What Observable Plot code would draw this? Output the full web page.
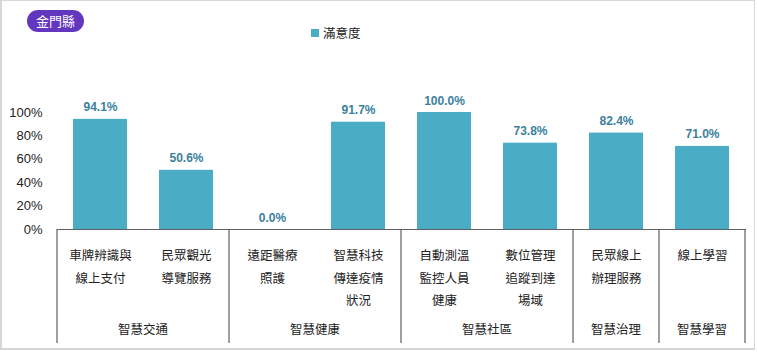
<!DOCTYPE html>
<html>
<head>
<meta charset="utf-8">
<script src="https://cdn.jsdelivr.net/npm/d3@7"></script>
<script src="https://cdn.jsdelivr.net/npm/@observablehq/plot@0.6"></script>
<style>
  html, body { margin: 0; padding: 0; background: #fff; }
  #wrap { position: relative; width: 757px; height: 352px; overflow: hidden;
          font-family: "Liberation Sans", "Noto Sans CJK TC", sans-serif; }
  #frame { position: absolute; left: 0; top: 0; width: 752px; height: 347px;
           border: 1px solid #d6d6d6; border-left-width: 2px; border-bottom-width: 2px; pointer-events: none; }
  #badge { position: absolute; left: 27px; top: 10px; width: 57px; height: 22px; border-radius: 11px;
           background: #6236bf; color: #fff; font-size: 13px; line-height: 22px; text-align: center;
           font-family: "Noto Sans CJK TC", sans-serif; }
  #legend { position: absolute; left: 311px; top: 23px; font-size: 12.5px; color: #222;
            font-family: "Noto Sans CJK TC", sans-serif; display: flex; align-items: center; }
  #legend span.sw { display: inline-block; width: 8px; height: 8px; background: #4bacc6; margin-right: 4px; }
  #chart { position: absolute; left: 0; top: 0; }
</style>
</head>
<body>
<div id="wrap">
  <div id="chart"></div>
  <div id="badge">金門縣</div>
  <div id="legend"><span class="sw"></span><span>滿意度</span></div>
  <div id="frame"></div>
</div>
<script>
const categories = [
  "車牌辨識與\n線上支付",
  "民眾觀光\n導覽服務",
  "遠距醫療\n照護",
  "智慧科技\n傳達疫情\n狀況",
  "自動測溫\n監控人員\n健康",
  "數位管理\n追蹤到達\n場域",
  "民眾線上\n辦理服務",
  "線上學習"
];
const groups = ["智慧交通", "智慧交通", "智慧健康", "智慧健康", "智慧社區", "智慧社區", "智慧治理", "智慧學習"];
const satisfaction = [94.1, 50.6, 0.0, 91.7, 100.0, 73.8, 82.4, 71.0];
const yTicks = [0, 20, 40, 60, 80, 100];

const data = categories.map((c, i) => ({cat: c, group: groups[i], value: satisfaction[i]}));

const chart = Plot.plot({
  width: 757,
  height: 352,
  marginLeft: 57,
  marginRight: 11,
  marginTop: 112,
  marginBottom: 123,
  style: {fontFamily: '"Liberation Sans", "Noto Sans CJK TC", sans-serif', color: "#222", background: "transparent"},
  x: {domain: categories, paddingInner: 0.37, paddingOuter: 0.185, axis: null},
  y: {domain: [0, 100], axis: null},
  marks: [
    Plot.barY(data, {x: "cat", y: "value", fill: "#4bacc6"}),
    Plot.ruleY([0], {stroke: "#5f5f5f", strokeWidth: 1.2}),
    Plot.axisY({ticks: yTicks, tickSize: 0, tickPadding: 15, tickFormat: d => d + "%", fontSize: 13, fill: "#222", label: null}),
    Plot.text(data, {x: "cat", y: "value", text: d => d.value.toFixed(1) + "%", dy: -8, lineAnchor: "bottom",
      fontWeight: "bold", fontSize: 12, fill: "#3a809e"}),
    Plot.text(data, {x: "cat", text: "cat", frameAnchor: "bottom", lineAnchor: "top", dy: 15,
      lineHeight: 1.8, fontSize: 12.5, fill: "#222", fontFamily: '"Noto Sans CJK TC", sans-serif'})
  ]
});
document.getElementById("chart").appendChild(chart);

// group separators and group labels positioned through the plot's x scale
const xs = chart.scale("x");
const bw = xs.bandwidth;
const step = xs.step;
const gap = (step - bw) / 2;
const yBase = 352 - 123;
const svg = d3.select(chart);
const uniq = [...new Set(groups)];
const boundaries = [];
uniq.forEach((g, gi) => {
  const members = categories.filter((c, i) => groups[i] === g);
  const left = xs.apply(members[0]) - gap;
  const right = xs.apply(members[members.length - 1]) + bw + gap;
  if (gi === 0) boundaries.push(left);
  boundaries.push(right);
  svg.append("text")
    .attr("x", (left + right) / 2)
    .attr("y", yBase + 101)
    .attr("dy", "0.35em")
    .attr("text-anchor", "middle")
    .attr("font-size", 12.5)
    .attr("fill", "#222")
    .attr("font-family", '"Noto Sans CJK TC", sans-serif')
    .text(g);
});
svg.append("g").selectAll("line").data(boundaries).join("line")
  .attr("x1", d => d).attr("x2", d => d)
  .attr("y1", yBase).attr("y2", yBase + 114)
  .attr("stroke", "#5f5f5f").attr("stroke-width", 1.2);
</script>
</body>
</html>
